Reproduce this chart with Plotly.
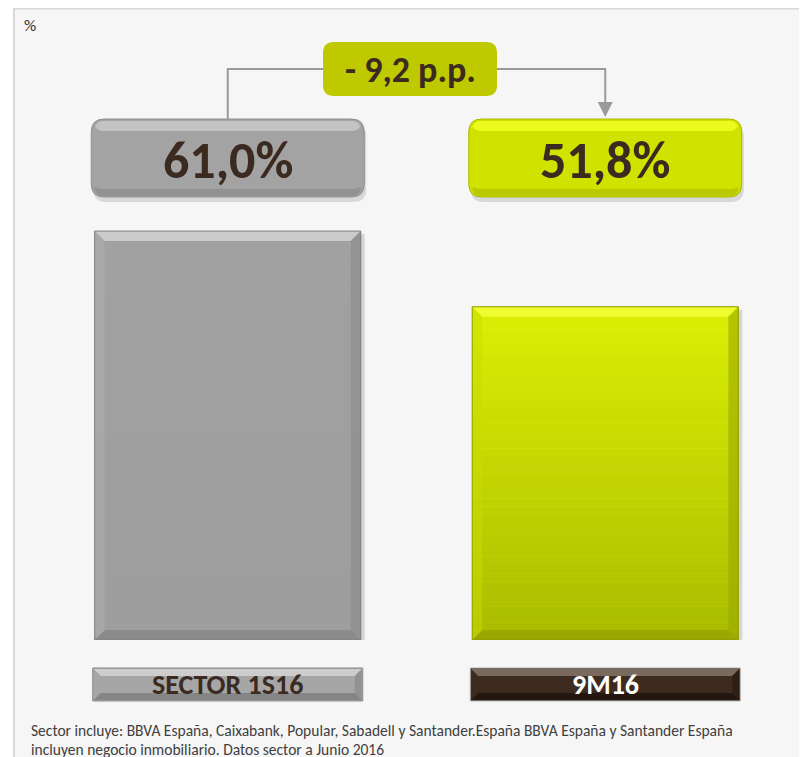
import plotly.graph_objects as go

# ---------------- data ----------------
categories = ["SECTOR 1S16", "9M16"]
values = [61.0, 51.8]
unit_label = "%"
footnote_lines = [
    "Sector incluye: BBVA España, Caixabank, Popular, Sabadell y Santander.España BBVA España y Santander España",
    "incluyen negocio inmobiliario. Datos sector a Junio 2016",
]


def fmt_pct(v):
    return f"{v:.1f}".replace(".", ",") + "%"


value_labels = [fmt_pct(v) for v in values]
diff = values[1] - values[0]
diff_label = ("- " if diff < 0 else "+ ") + f"{abs(diff):.1f}".replace(".", ",") + " p.p."

# ---------------- layout constants (screen pixels; page has an 8px body margin) ----------------
OFF = 8
FW, FH = 807 - OFF, 757 - OFF
PL, PR, PT, PB = 39, 794, 100, 640          # plot area in screen pixels
ML, MR, MT, MB = PL - OFF, FW - (PR - OFF), PT - OFF, FH - (PB - OFF)
PW, PH = PR - PL, PB - PT
X_RANGE = [-0.5, 1.5]
UNIT = PW / (X_RANGE[1] - X_RANGE[0])
Y_MIN = 11.3
K = 8.228  # px per unit
Y_MAX = Y_MIN + PH / K
BAR_W = 0.705

FONT = "Carlito, Lato, 'Open Sans', sans-serif"
TXT = "#3b2a1f"


def xpx(xd):
    return PL + (xd - X_RANGE[0]) * UNIT


def px2p(px, py):
    return (px - PL) / PW, (PB - py) / PH


def path_px(points, close=True):
    s = ""
    for cmd, pts in points:
        s += cmd + " " + " ".join(f"{px2p(a, b)[0]:.5f},{px2p(a, b)[1]:.5f}" for a, b in pts) + " "
    return s + ("Z" if close else "")


def rrect(x0, y0, x1, y1, r):
    return path_px([
        ("M", [(x0 + r, y0)]), ("L", [(x1 - r, y0)]), ("Q", [(x1, y0), (x1, y0 + r)]),
        ("L", [(x1, y1 - r)]), ("Q", [(x1, y1), (x1 - r, y1)]), ("L", [(x0 + r, y1)]),
        ("Q", [(x0, y1), (x0, y1 - r)]), ("L", [(x0, y0 + r)]), ("Q", [(x0, y0), (x0 + r, y0)]),
    ])


def lerp_color(c0, c1, t):
    a = [int(c0[i:i + 2], 16) for i in (1, 3, 5)]
    b = [int(c1[i:i + 2], 16) for i in (1, 3, 5)]
    return "#" + "".join(f"{round(a[i] + (b[i] - a[i]) * t):02x}" for i in range(3))


shapes = []
annotations = []

# panel frame
x0p, y0p = px2p(14, OFF + 0.5)
x1p, y1p = px2p(806, 775)
shapes.append(dict(type="rect", xref="paper", yref="paper", x0=x0p, y0=y1p, x1=x1p, y1=y0p,
                   fillcolor="#f6f6f6", line=dict(color="#d9d9d9", width=2), layer="below"))

bar_styles = [
    dict(top="#a1a1a1", bottom="#9e9e9e", hi="#d4d4d4", lo="#7e7e7e", side_l="#b0b0b0", side_r="#8a8a8a"),
    dict(top="#dcf005", bottom="#a9bb00", hi="#f4ff3a", lo="#8d9a00", side_l="#c9dc00", side_r="#9aa900"),
]

# bar shadows, gradients and bevels (in data coordinates)
bev_x = 10 / UNIT
bev_y = 10 / K
for i, v in enumerate(values):
    st = bar_styles[i]
    bx0, bx1 = i - BAR_W / 2, i + BAR_W / 2
    shapes.append(dict(type="rect", xref="x", yref="y", x0=bx0 + 3 / UNIT, x1=bx1 + 4 / UNIT,
                       y0=Y_MIN, y1=v - 3 / K, fillcolor="rgba(0,0,0,0.13)", line_width=0, layer="below"))
    n = 40
    for j in range(n):
        ya = v - (v - Y_MIN) * j / n
        yb = v - (v - Y_MIN) * (j + 1) / n
        shapes.append(dict(type="rect", xref="x", yref="y", x0=bx0, x1=bx1, y0=yb - 0.02, y1=ya,
                           fillcolor=lerp_color(st["top"], st["bottom"], (j + 0.5) / n), line_width=0,
                           layer="above"))
    shapes.append(dict(type="path", xref="x", yref="y", layer="above", line_width=0, fillcolor=st["hi"],
                       path=f"M {bx0},{v} L {bx1},{v} L {bx1 - bev_x},{v - bev_y} L {bx0 + bev_x},{v - bev_y} Z",
                       opacity=0.8))
    shapes.append(dict(type="path", xref="x", yref="y", layer="above", line_width=0, fillcolor=st["lo"],
                       path=f"M {bx0},{Y_MIN} L {bx1},{Y_MIN} L {bx1 - bev_x},{Y_MIN + bev_y} L {bx0 + bev_x},{Y_MIN + bev_y} Z",
                       opacity=0.6))
    shapes.append(dict(type="path", xref="x", yref="y", layer="above", line_width=0, fillcolor=st["side_l"],
                       path=f"M {bx0},{v} L {bx0 + bev_x},{v - bev_y} L {bx0 + bev_x},{Y_MIN + bev_y} L {bx0},{Y_MIN} Z",
                       opacity=0.5))
    shapes.append(dict(type="path", xref="x", yref="y", layer="above", line_width=0, fillcolor=st["side_r"],
                       path=f"M {bx1},{v} L {bx1 - bev_x},{v - bev_y} L {bx1 - bev_x},{Y_MIN + bev_y} L {bx1},{Y_MIN} Z",
                       opacity=0.6))
    shapes.append(dict(type="rect", xref="x", yref="y", layer="above", x0=bx0, x1=bx1, y0=Y_MIN, y1=v,
                       line=dict(color=st["lo"], width=1), fillcolor="rgba(0,0,0,0)"))

# value label boxes
box_styles = [
    dict(base="#a3a3a3", hi="#c9c9c9", lo="#8a8a8a", line="#8f8f8f"),
    dict(base="#cfe200", hi="#eeff22", lo="#b0c000", line="#aab800"),
]
BOX_W = 273
for i, lab in enumerate(value_labels):
    cx = xpx(i)
    st = box_styles[i]
    bx0, bx1, by0, by1 = cx - BOX_W / 2, cx + BOX_W / 2, 119, 197
    shapes.append(dict(type="path", xref="paper", yref="paper", layer="below", line_width=0,
                       fillcolor="rgba(0,0,0,0.12)", path=rrect(bx0 + 2, by0 + 5, bx1 + 2, by1 + 5, 13)))
    shapes.append(dict(type="path", xref="paper", yref="paper", layer="below",
                       line=dict(color=st["line"], width=1), fillcolor=st["base"],
                       path=rrect(bx0, by0, bx1, by1, 13)))
    shapes.append(dict(type="path", xref="paper", yref="paper", layer="below", line_width=0,
                       fillcolor=st["lo"], opacity=0.7, path=rrect(bx0 + 3, by1 - 14, bx1 - 3, by1 - 1, 10)))
    shapes.append(dict(type="path", xref="paper", yref="paper", layer="below", line_width=0,
                       fillcolor=st["base"], path=rrect(bx0 + 1, by0 + 12, bx1 - 1, by1 - 8, 10)))
    shapes.append(dict(type="path", xref="paper", yref="paper", layer="below", line_width=0,
                       fillcolor=st["hi"], opacity=0.85, path=rrect(bx0 + 4, by0 + 2, bx1 - 4, by0 + 12, 8)))
    px_, py_ = px2p(cx, 160)
    annotations.append(dict(xref="paper", yref="paper", x=px_, y=py_, text=f"<b>{lab}</b>",
                            showarrow=False, xanchor="center", yanchor="middle",
                            font=dict(family=FONT, size=52, color=TXT)))

# difference box + connector
DX0, DX1, DY0, DY1 = 323, 497, 42, 96
DMID = (DY0 + DY1) / 2
line_col = "#9a9a9a"
shapes.append(dict(type="path", xref="paper", yref="paper", layer="below", line=dict(color=line_col, width=2),
                   path=path_px([("M", [(xpx(0), 119)]), ("L", [(xpx(0), DMID)]), ("L", [(DX0, DMID)])], close=False)))
shapes.append(dict(type="path", xref="paper", yref="paper", layer="below", line=dict(color=line_col, width=2),
                   path=path_px([("M", [(DX1, DMID)]), ("L", [(xpx(1), DMID)]), ("L", [(xpx(1), 104)])], close=False)))
shapes.append(dict(type="path", xref="paper", yref="paper", layer="below", line_width=0, fillcolor=line_col,
                   path=path_px([("M", [(xpx(1) - 7.5, 102)]), ("L", [(xpx(1) + 7.5, 102)]), ("L", [(xpx(1), 117)])])))
shapes.append(dict(type="path", xref="paper", yref="paper", layer="below", line_width=0, fillcolor="#bec900",
                   path=rrect(DX0, DY0, DX1, DY1, 11)))
px_, py_ = px2p((DX0 + DX1) / 2, DMID + 1)
annotations.append(dict(xref="paper", yref="paper", x=px_, y=py_, text=f"<b>{diff_label}</b>",
                        showarrow=False, xanchor="center", yanchor="middle",
                        font=dict(family=FONT, size=36, color=TXT)))

# category label boxes
cat_styles = [
    dict(base="#a6a6a6", hi="#cdcdcd", lo="#858585", line="#8a8a8a", txt=TXT),
    dict(base="#3d2b1f", hi="#7a6a5e", lo="#24170f", line="#b5b5b5", txt="#ffffff"),
]
CAT_W = 270
for i, cat in enumerate(categories):
    cx = xpx(i)
    st = cat_styles[i]
    bx0, bx1, by0, by1 = cx - CAT_W / 2, cx + CAT_W / 2, 668, 701
    shapes.append(dict(type="path", xref="paper", yref="paper", layer="below",
                       line=dict(color=st["line"], width=1), fillcolor=st["base"],
                       path=path_px([("M", [(bx0, by0)]), ("L", [(bx1, by0)]), ("L", [(bx1, by1)]), ("L", [(bx0, by1)])])))
    b = 7
    shapes.append(dict(type="path", xref="paper", yref="paper", layer="below", line_width=0, fillcolor=st["hi"],
                       path=path_px([("M", [(bx0 + 1, by0 + 1)]), ("L", [(bx1 - 1, by0 + 1)]),
                                     ("L", [(bx1 - 1 - b, by0 + 1 + b)]), ("L", [(bx0 + 1 + b, by0 + 1 + b)])])))
    shapes.append(dict(type="path", xref="paper", yref="paper", layer="below", line_width=0, fillcolor=st["lo"],
                       path=path_px([("M", [(bx0 + 1, by1 - 1)]), ("L", [(bx1 - 1, by1 - 1)]),
                                     ("L", [(bx1 - 1 - b, by1 - 1 - b)]), ("L", [(bx0 + 1 + b, by1 - 1 - b)])])))
    shapes.append(dict(type="path", xref="paper", yref="paper", layer="below", line_width=0, fillcolor=st["lo"],
                       opacity=0.6,
                       path=path_px([("M", [(bx1 - 1, by0 + 1)]), ("L", [(bx1 - 1, by1 - 1)]),
                                     ("L", [(bx1 - 1 - b, by1 - 1 - b)]), ("L", [(bx1 - 1 - b, by0 + 1 + b)])])))
    px_, py_ = px2p(cx, (by0 + by1) / 2)
    annotations.append(dict(xref="paper", yref="paper", x=px_, y=py_, text=f"<b>{cat}</b>",
                            showarrow=False, xanchor="center", yanchor="middle",
                            font=dict(family=FONT, size=28, color=st["txt"])))

# "%" label
px_, py_ = px2p(22, 26)
annotations.append(dict(xref="paper", yref="paper", x=px_, y=py_, text=unit_label, showarrow=False,
                        xanchor="left", yanchor="middle", font=dict(family=FONT, size=17, color="#333333")))

# footnote
for k, line in enumerate(footnote_lines):
    px_, py_ = px2p(30, 730 + 19 * k)
    annotations.append(dict(xref="paper", yref="paper", x=px_, y=py_, text=line, showarrow=False,
                            borderpad=0, xanchor="left", yanchor="middle",
                            font=dict(family=FONT, size=15.5, color="#404040")))

fig = go.Figure(go.Bar(
    x=list(range(len(categories))), y=values,
    marker=dict(color=[s["top"] for s in bar_styles], line=dict(width=0)),
    width=BAR_W, hoverinfo="skip",
))

fig.update_layout(
    width=FW, height=FH,
    margin=dict(l=ML, r=MR, t=MT, b=MB, pad=0),
    paper_bgcolor="#ffffff", plot_bgcolor="rgba(0,0,0,0)",
    showlegend=False,
    xaxis=dict(range=X_RANGE, visible=False, fixedrange=True),
    yaxis=dict(range=[Y_MIN, Y_MAX], visible=False, fixedrange=True),
    shapes=shapes, annotations=annotations,
)

fig.write_html("out.html")
